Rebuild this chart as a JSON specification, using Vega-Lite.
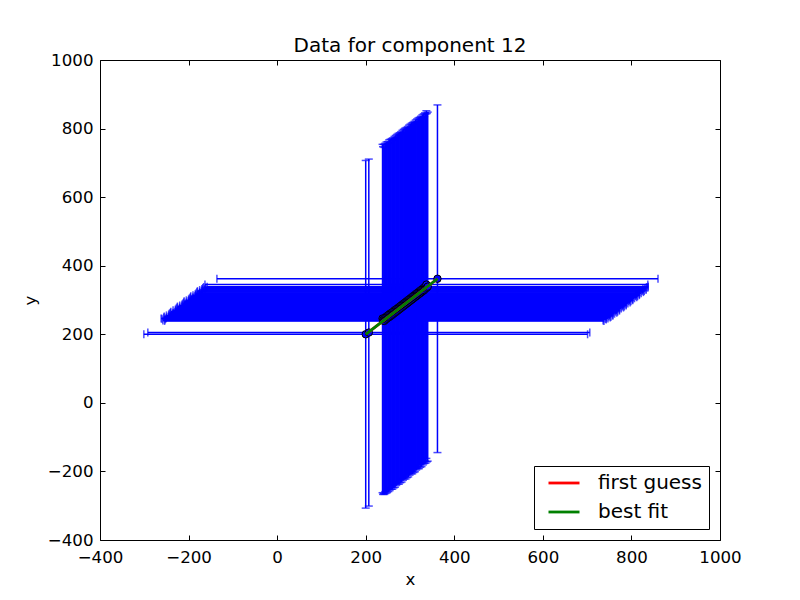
{
  "$schema": "https://vega.github.io/schema/vega-lite/v6.json",
  "width": 620,
  "height": 480,
  "autosize": {"type": "none"},
  "padding": {"left": 100, "top": 60, "right": 80, "bottom": 60},
  "background": "white",
  "title": {"text": "Data for component 12", "font": "DejaVu Sans", "fontSize": 20, "fontWeight": "normal", "color": "black", "baseline": "alphabetic", "offset": -20},
  "config": {
    "view": {"stroke": null},
    "axis": {"grid": false, "domainColor": "black", "domainWidth": 1, "tickColor": "black", "tickWidth": 1, "tickSize": -5, "labelFont": "DejaVu Sans", "labelFontSize": 16.67, "labelColor": "black", "titleFont": "DejaVu Sans", "titleFontSize": 16.67, "titleFontWeight": "normal", "titleColor": "black", "labelFlush": false, "labelOverlap": false, "format": "d"},
    "legend": {"labelFont": "DejaVu Sans", "labelFontSize": 20, "labelColor": "black"}
  },
  "datasets": {
    "pts": [
      {"x": 200, "y": 200, "xerr": 501, "yerr": 507},
      {"x": 207, "y": 205, "xerr": 499, "yerr": 506},
      {"x": 238, "y": 246, "xerr": 500, "yerr": 508},
      {"x": 239, "y": 240, "xerr": 497, "yerr": 507},
      {"x": 241, "y": 245, "xerr": 501, "yerr": 509},
      {"x": 242, "y": 239, "xerr": 496, "yerr": 506},
      {"x": 244, "y": 249, "xerr": 500, "yerr": 508},
      {"x": 245, "y": 243, "xerr": 498, "yerr": 507},
      {"x": 247, "y": 252, "xerr": 502, "yerr": 509},
      {"x": 248, "y": 246, "xerr": 499, "yerr": 508},
      {"x": 250, "y": 255, "xerr": 500, "yerr": 507},
      {"x": 251, "y": 249, "xerr": 501, "yerr": 508},
      {"x": 253, "y": 258, "xerr": 498, "yerr": 509},
      {"x": 254, "y": 251, "xerr": 500, "yerr": 507},
      {"x": 256, "y": 261, "xerr": 499, "yerr": 508},
      {"x": 257, "y": 254, "xerr": 501, "yerr": 506},
      {"x": 259, "y": 263, "xerr": 500, "yerr": 508},
      {"x": 260, "y": 257, "xerr": 498, "yerr": 509},
      {"x": 262, "y": 266, "xerr": 502, "yerr": 507},
      {"x": 263, "y": 260, "xerr": 499, "yerr": 508},
      {"x": 265, "y": 270, "xerr": 500, "yerr": 507},
      {"x": 266, "y": 263, "xerr": 501, "yerr": 509},
      {"x": 268, "y": 272, "xerr": 498, "yerr": 508},
      {"x": 269, "y": 266, "xerr": 500, "yerr": 507},
      {"x": 271, "y": 275, "xerr": 499, "yerr": 508},
      {"x": 272, "y": 269, "xerr": 501, "yerr": 506},
      {"x": 274, "y": 278, "xerr": 500, "yerr": 508},
      {"x": 275, "y": 272, "xerr": 498, "yerr": 509},
      {"x": 277, "y": 281, "xerr": 502, "yerr": 507},
      {"x": 278, "y": 275, "xerr": 499, "yerr": 508},
      {"x": 280, "y": 284, "xerr": 500, "yerr": 507},
      {"x": 281, "y": 278, "xerr": 501, "yerr": 509},
      {"x": 283, "y": 287, "xerr": 498, "yerr": 508},
      {"x": 284, "y": 281, "xerr": 500, "yerr": 507},
      {"x": 286, "y": 290, "xerr": 499, "yerr": 508},
      {"x": 287, "y": 284, "xerr": 501, "yerr": 506},
      {"x": 289, "y": 293, "xerr": 500, "yerr": 508},
      {"x": 290, "y": 287, "xerr": 498, "yerr": 509},
      {"x": 292, "y": 296, "xerr": 502, "yerr": 507},
      {"x": 293, "y": 290, "xerr": 499, "yerr": 508},
      {"x": 295, "y": 299, "xerr": 500, "yerr": 507},
      {"x": 296, "y": 293, "xerr": 501, "yerr": 509},
      {"x": 298, "y": 302, "xerr": 498, "yerr": 508},
      {"x": 299, "y": 296, "xerr": 500, "yerr": 507},
      {"x": 301, "y": 305, "xerr": 499, "yerr": 508},
      {"x": 302, "y": 299, "xerr": 501, "yerr": 506},
      {"x": 304, "y": 308, "xerr": 500, "yerr": 508},
      {"x": 305, "y": 302, "xerr": 498, "yerr": 509},
      {"x": 307, "y": 311, "xerr": 502, "yerr": 507},
      {"x": 308, "y": 305, "xerr": 499, "yerr": 508},
      {"x": 310, "y": 314, "xerr": 500, "yerr": 507},
      {"x": 311, "y": 308, "xerr": 501, "yerr": 509},
      {"x": 313, "y": 317, "xerr": 498, "yerr": 508},
      {"x": 314, "y": 311, "xerr": 500, "yerr": 507},
      {"x": 316, "y": 320, "xerr": 499, "yerr": 508},
      {"x": 317, "y": 314, "xerr": 501, "yerr": 506},
      {"x": 319, "y": 323, "xerr": 500, "yerr": 508},
      {"x": 320, "y": 317, "xerr": 498, "yerr": 509},
      {"x": 322, "y": 326, "xerr": 502, "yerr": 507},
      {"x": 323, "y": 320, "xerr": 499, "yerr": 508},
      {"x": 325, "y": 329, "xerr": 500, "yerr": 507},
      {"x": 326, "y": 323, "xerr": 501, "yerr": 509},
      {"x": 328, "y": 332, "xerr": 498, "yerr": 508},
      {"x": 329, "y": 326, "xerr": 500, "yerr": 507},
      {"x": 331, "y": 335, "xerr": 499, "yerr": 508},
      {"x": 332, "y": 329, "xerr": 501, "yerr": 506},
      {"x": 334, "y": 338, "xerr": 500, "yerr": 508},
      {"x": 335, "y": 333, "xerr": 498, "yerr": 509},
      {"x": 337, "y": 345, "xerr": 500, "yerr": 507},
      {"x": 338, "y": 336, "xerr": 499, "yerr": 508},
      {"x": 340, "y": 339, "xerr": 498, "yerr": 509},
      {"x": 362, "y": 362, "xerr": 498, "yerr": 507}
    ],
    "fg": [
      {"x": 200, "y": 200, "series": "first guess"},
      {"x": 362, "y": 362, "series": "first guess"}
    ],
    "bf": [
      {"x": 200, "y": 200, "series": "best fit"},
      {"x": 362, "y": 362, "series": "best fit"}
    ]
  },
  "layer": [
    {
      "data": {"name": "pts"},
      "mark": {"type": "errorbar", "ticks": {"size": 8, "thickness": 1.5, "color": "#0000ff"}, "rule": {"strokeWidth": 1.5, "color": "#0000ff"}},
      "encoding": {
        "x": {"field": "x", "type": "quantitative", "scale": {"domain": [-400, 1000], "nice": false, "zero": false}, "axis": {"orient": "bottom", "title": "x", "values": [-400, -200, 0, 200, 400, 600, 800, 1000], "labelPadding": 14, "titlePadding": 6}},
        "xError": {"field": "xerr"},
        "y": {"field": "y", "type": "quantitative", "scale": {"domain": [-400, 1000], "nice": false, "zero": false}, "axis": {"orient": "left", "title": "y", "values": [-400, -200, 0, 200, 400, 600, 800, 1000], "labelPadding": 12, "titlePadding": 8}}
      }
    },
    {
      "data": {"name": "pts"},
      "mark": {"type": "errorbar", "ticks": {"size": 8, "thickness": 1.5, "color": "#0000ff"}, "rule": {"strokeWidth": 1.5, "color": "#0000ff"}},
      "encoding": {
        "x": {"field": "x", "type": "quantitative", "axis": null},
        "y": {"field": "y", "type": "quantitative", "axis": null},
        "yError": {"field": "yerr"}
      }
    },
    {
      "data": {"name": "pts"},
      "mark": {"type": "point", "shape": "circle", "filled": true, "fill": "#0000ff", "stroke": "black", "strokeWidth": 1, "size": 55, "opacity": 1},
      "encoding": {
        "x": {"field": "x", "type": "quantitative", "axis": {"orient": "top", "labels": false, "title": null, "values": [-400, -200, 0, 200, 400, 600, 800, 1000]}},
        "y": {"field": "y", "type": "quantitative", "axis": {"orient": "right", "labels": false, "title": null, "values": [-400, -200, 0, 200, 400, 600, 800, 1000]}}
      }
    },
    {
      "data": {"name": "fg"},
      "mark": {"type": "line", "strokeWidth": 2.8},
      "encoding": {
        "x": {"field": "x", "type": "quantitative", "axis": null},
        "y": {"field": "y", "type": "quantitative", "axis": null},
        "color": {"field": "series", "type": "nominal", "scale": {"domain": ["first guess", "best fit"], "range": ["#ff0000", "#008000"]}, "legend": {"title": null, "orient": "none", "legendX": 434, "legendY": 406, "symbolType": "stroke", "symbolSize": 961, "symbolStrokeWidth": 2.8, "symbolOffset": 6, "labelOffset": 17, "padding": 7, "rowPadding": 9, "clipHeight": 20, "strokeColor": "black", "fillColor": "white"}}
      }
    },
    {
      "data": {"name": "bf"},
      "mark": {"type": "line", "strokeWidth": 2.8},
      "encoding": {
        "x": {"field": "x", "type": "quantitative", "axis": null},
        "y": {"field": "y", "type": "quantitative", "axis": null},
        "color": {"field": "series", "type": "nominal"}
      }
    }
  ],
  "resolve": {"axis": {"x": "independent", "y": "independent"}}
}
